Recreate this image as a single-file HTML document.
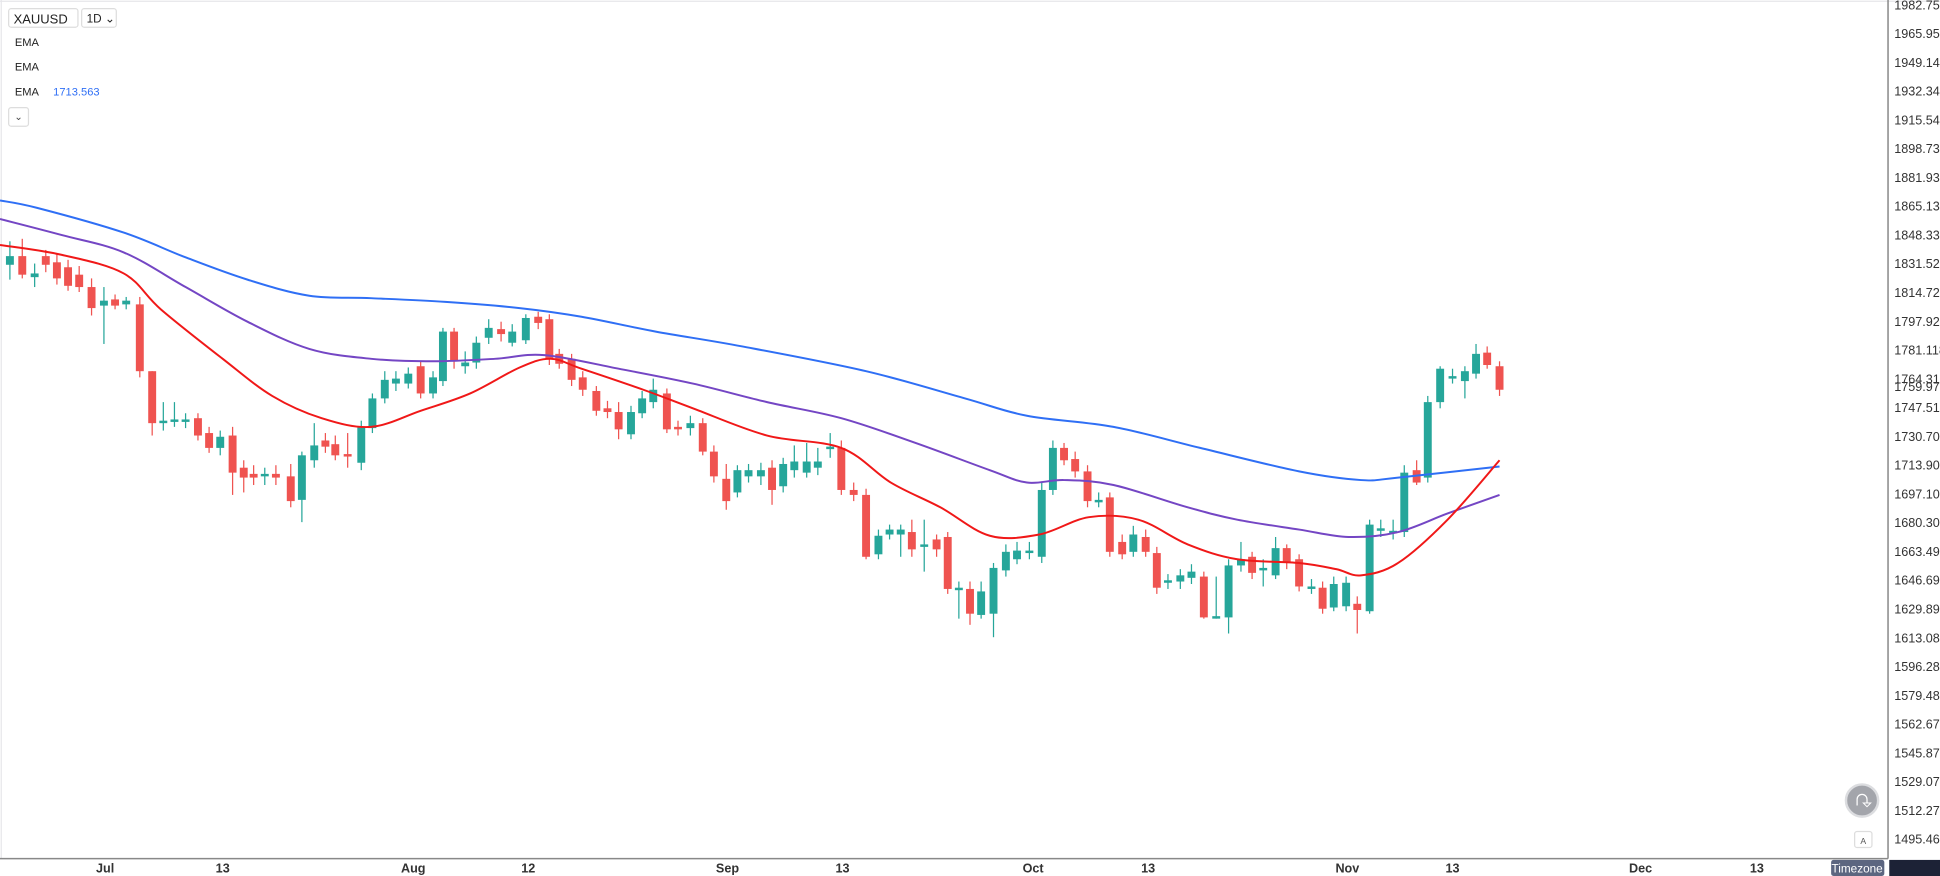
<!DOCTYPE html>
<html><head><meta charset="utf-8"><style>
html,body{margin:0;padding:0;background:#fff;width:1940px;height:876px;overflow:hidden}
svg{display:block}
text{font-family:"Liberation Sans",sans-serif}
</style></head><body>
<svg id="s" width="1940" height="876" viewBox="0 0 1568 708" preserveAspectRatio="none" xmlns="http://www.w3.org/2000/svg">
<rect x="0" y="0" width="1568" height="708" fill="#fff"/>
<line x1="0" y1="1" x2="1568" y2="1" stroke="#e6e6ea"/>
<line x1="1" y1="0" x2="1" y2="694" stroke="#e6e6ea"/>
<g id="candles"></g>
<path id="pb" fill="none" stroke="#2f6ff5" stroke-width="1.6"/>
<path id="pp" fill="none" stroke="#7446c4" stroke-width="1.6"/>
<path id="pr" fill="none" stroke="#f01818" stroke-width="1.6"/>
<line x1="1526" y1="0" x2="1526" y2="694" stroke="#888" stroke-width="1.2"/>
<line x1="0" y1="694" x2="1526" y2="694" stroke="#888" stroke-width="1.2"/>
<g id="yl" font-size="10.2" fill="#333"></g>
<g font-size="10.2" fill="#333" text-anchor="middle" font-weight="bold">
<text x="85" y="705">Jul</text><text x="180" y="705">13</text><text x="334" y="705">Aug</text><text x="427" y="705">12</text>
<text x="588" y="705">Sep</text><text x="681" y="705">13</text><text x="835" y="705">Oct</text><text x="928" y="705">13</text>
<text x="1089" y="705">Nov</text><text x="1174" y="705">13</text><text x="1326" y="705">Dec</text><text x="1420" y="705">13</text>
</g>
<rect x="1480" y="695" width="43" height="13" rx="2" fill="#5c6680"/>
<text x="1501" y="705" font-size="9.5" fill="#fff" text-anchor="middle">Timezone</text>
<rect x="1527" y="695" width="41" height="13" fill="#1c2236"/>
<circle cx="1505" cy="647" r="13" fill="#a3a5ab" stroke="#dcdde0" stroke-width="2"/>
<path d="M1501,651 v-5 a4,4 0 0 1 8,0 v3" fill="none" stroke="#fff" stroke-width="1"/>
<path d="M1506,649 h6 l-3,3 z" fill="none" stroke="#fff" stroke-width="0.8"/>
<rect x="1499" y="672" width="14" height="13" rx="2" fill="#fff" stroke="#ddd"/>
<text x="1506" y="682" font-size="7" fill="#555" text-anchor="middle">A</text>
<rect x="7" y="7" width="56" height="15" rx="2" fill="#fff" stroke="#ddd"/>
<text x="11" y="19" font-size="10.5" fill="#222">XAUUSD</text>
<rect x="66" y="7" width="28" height="15" rx="2" fill="#fff" stroke="#ddd"/>
<text x="70" y="18" font-size="9.5" fill="#222">1D ⌄</text>
<text x="12" y="37" font-size="9" fill="#222">EMA</text>
<text x="12" y="57" font-size="9" fill="#222">EMA</text>
<text x="12" y="77" font-size="9" fill="#222">EMA</text>
<text x="43" y="77" font-size="9" fill="#2f6ff5">1713.563</text>
<rect x="7" y="87" width="16" height="15" rx="2" fill="#fff" stroke="#ddd"/>
<text x="15" y="97" font-size="8" fill="#444" text-anchor="middle">⌄</text>
</svg>
<script>
var c=[[8,207,214,'g',195,226],[18,207,222,'r',193,225],[28,221,224,'g',213,232],[37,207,214,'r',202,220],[46,212,225,'r',205,230],[55,216,231,'r',210,235],[64,222,232,'r',215,236],[74,232,249,'r',225,255],[84,243,247,'g',232,278],[93,242,247,'r',238,250],[102,243,246,'g',240,250],
[113,246,300,'r',240,305],[123,300,342,'r',300,352],[132,340,342,'g',325,348],[141,339,341,'g',325,345],[150,339,341,'g',334,346],[160,338,352,'r',334,356],[169,350,362,'r',345,366],[178,353,362,'g',348,368],[188,352,382,'r',345,400],[197,378,386,'r',372,398],[205,383,386,'r',376,392],[214,383,385,'g',378,392],[223,383,386,'r',376,392],
[235,385,405,'r',375,410],[244,368,404,'g',365,422],[254,360,372,'g',342,378],[263,356,361,'r',350,366],[271,359,368,'r',352,372],[281,367,369,'r',350,378],[292,345,374,'g',340,380],[301,322,346,'g',318,350],[311,307,322,'g',300,326],[320,306,310,'g',300,316],[330,302,310,'g',297,314],[340,296,318,'r',292,322],[350,305,318,'g',300,322],[358,268,308,'g',265,312],[367,268,292,'r',265,298],[376,293,296,'g',284,302],[385,277,293,'g',272,298],[395,265,273,'g',258,278],[405,266,270,'r',260,276],[414,268,277,'g',262,280],[425,257,275,'g',254,278],[435,256,261,'r',252,266],[444,258,290,'r',254,295],[452,286,294,'r',282,298],[462,290,307,'r',286,312],[471,305,315,'r',300,320],[482,316,332,'r',312,336],[491,330,333,'r',324,338],[500,333,347,'r',325,355],[510,333,351,'g',328,355],[519,322,334,'g',316,338],[528,315,325,'g',306,330],[539,318,347,'r',314,350],[548,345,347,'r',340,352],[558,342,346,'g',336,352],[568,342,365,'r',338,368],[577,365,385,'r',360,390],[587,387,405,'r',375,412],[596,380,398,'g',376,402],[605,380,385,'g',375,390],[615,380,385,'g',374,392],[624,378,396,'r',372,408],[633,375,393,'g',370,398],[642,373,380,'g',360,386],[652,373,382,'g',358,386],[661,373,378,'g',362,384],[671,361,363,'g',350,370],[680,362,396,'r',356,400],[690,396,400,'r',390,405],[700,400,450,'r',395,452],[710,433,448,'g',428,452],[719,428,432,'g',424,436],[728,428,432,'g',424,450],[737,430,444,'r',420,450],[747,440,442,'g',420,462],[757,436,444,'r',432,450],[766,434,476,'r',430,480],[775,475,477,'g',470,500],[784,476,496,'r',470,505],[793,478,497,'g',470,500],[803,459,496,'g',455,515],[813,446,461,'g',440,466],[822,445,452,'g',438,456],[832,445,447,'g',438,452],[842,396,450,'g',390,455],[851,362,396,'g',356,400],[860,362,372,'r',358,376],[869,371,381,'r',365,386],[879,381,405,'r',376,410],[888,404,406,'g',398,410],[897,402,446,'r',398,450],[907,438,448,'r',432,452],[916,432,446,'g',425,450],[926,434,446,'r',428,450],[935,447,475,'r',442,480],[944,469,471,'g',464,476],[954,465,470,'g',460,476],[963,462,467,'g',456,472],[973,466,499,'r',462,500],[983,498,500,'g',466,500],[993,457,499,'g',452,512],[1003,452,457,'g',438,462],[1012,450,463,'r',446,468],[1021,459,461,'g',452,474],[1031,443,465,'g',434,468],[1040,443,455,'r',440,460],[1050,452,474,'r',448,478],[1060,474,476,'g',468,480],[1069,475,492,'r',470,496],[1078,472,491,'g',466,494],[1088,471,490,'g',466,494],[1097,488,493,'r',482,512],[1107,424,494,'g',420,496],[1116,427,429,'g',420,434],[1126,429,431,'g',420,436],[1135,382,430,'g',376,434],[1145,380,390,'r',372,392],[1154,325,386,'g',320,390],[1164,298,325,'g',296,330],[1174,304,306,'g',298,310],[1184,300,308,'g',296,322],[1193,286,302,'g',278,306],[1202,285,295,'r',280,298],[1212,296,315,'r',292,320]];
var g=document.getElementById('candles'),h='';
c.forEach(function(k){var col=k[3]=='g'?'#26a69a':'#ef5350';var bh=Math.max(1.5,k[2]-k[1]);
h+='<line x1="'+k[0]+'" x2="'+k[0]+'" y1="'+k[4]+'" y2="'+k[5]+'" stroke="'+col+'" stroke-width="1"/>';
h+='<rect x="'+(k[0]-3.2)+'" y="'+k[1]+'" width="6.4" height="'+bh+'" fill="'+col+'"/>';});
g.innerHTML=h;
function sm(p){var d='M'+p[0][0]+','+p[0][1];for(var i=0;i<p.length-1;i++){var p0=p[i-1]||p[i],p1=p[i],p2=p[i+1],p3=p[i+2]||p2;
var c1x=p1[0]+(p2[0]-p0[0])/6,c1y=p1[1]+(p2[1]-p0[1])/6,c2x=p2[0]-(p3[0]-p1[0])/6,c2y=p2[1]-(p3[1]-p1[1])/6;
d+=' C'+c1x+','+c1y+' '+c2x+','+c2y+' '+p2[0]+','+p2[1];}return d;}
document.getElementById('pb').setAttribute('d',sm([[0,162],[30,168],[100,188],[150,208],[200,226],[250,239],[300,241],[360,244],[420,249],[470,256],[530,268],[600,280],[700,300],[780,322],[830,336],[900,345],[970,362],[1050,381],[1100,388],[1130,386],[1212,377]]));
document.getElementById('pp').setAttribute('d',sm([[0,177],[50,190],[100,204],[150,232],[200,260],[250,282],[300,290],[350,292],[400,290],[440,287],[500,298],[560,310],[620,325],[680,338],[740,358],[800,380],[830,390],[860,388],[900,392],[960,410],[1000,420],[1050,428],[1090,434],[1130,430],[1170,415],[1212,400]]));
document.getElementById('pr').setAttribute('d',sm([[0,198],[50,206],[100,221],[130,250],[180,290],[220,320],[260,338],[300,345],[340,332],[380,318],[420,297],[445,290],[470,298],[520,315],[560,330],[620,352],[680,362],[720,390],[760,410],[800,433],[840,432],[880,418],[920,420],[960,440],[1000,452],[1050,455],[1080,460],[1100,465],[1130,455],[1170,420],[1212,372]]));
var yl=document.getElementById('yl'),t='';
for(var i=0;i<30;i++){var p=(1982.754-16.803*i).toFixed(3);var y=4+23.255*i+3.5;t+='<text x="1531" y="'+y+'">'+p+'</text>';}
t+='<text x="1531" y="316">1759.978</text>';
yl.innerHTML=t;
</script>
</body></html>
